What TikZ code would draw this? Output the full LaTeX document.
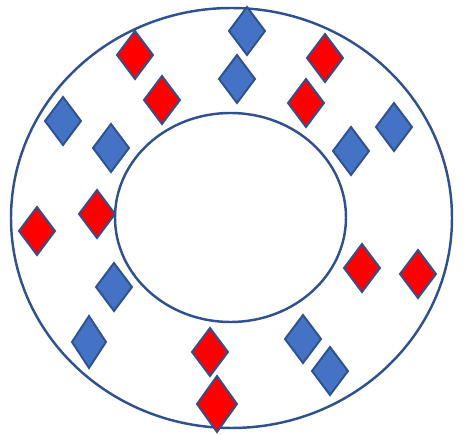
\documentclass[tikz,border=0pt]{standalone}
\usepackage{tikz}
\usetikzlibrary{shapes.geometric}
\definecolor{ringblue}{HTML}{2F528F}
\definecolor{gemblue}{HTML}{4472C4}
\tikzset{
    ring/.style={draw=ringblue, line width=1.4pt},
    gem/.style={diamond, draw=ringblue, line width=1.1pt, minimum width=0.72cm, minimum height=0.96cm, inner sep=0pt, outer sep=0pt},
    bluegem/.style={gem, fill=gemblue},
    redgem/.style={gem, fill=red}
}

\begin{document}
\begin{tikzpicture}[x=0.02cm, y=-0.02cm]
    \useasboundingbox (0,0) rectangle (464,435);
    % two rings
    \draw [ring] (231.5,218) ellipse [x radius=220.5, y radius=210];
    \draw [ring] (230.5,217.5) ellipse [x radius=115.5, y radius=104.5];

    % blue diamonds
    \node (b1) [bluegem] at (247,31) {};
    \node (b2) [bluegem] at (237,79) {};
    \node (b3) [bluegem] at (63,121) {};
    \node (b4) [bluegem] at (111,148) {};
    \node (b5) [bluegem] at (394,127) {};
    \node (b6) [bluegem] at (351,151) {};
    \node (b7) [bluegem] at (114,287) {};
    \node (b8) [bluegem, minimum width=0.68cm, minimum height=1.04cm] at (89,342) {};
    \node (b9) [bluegem] at (303,339) {};
    \node (b10) [bluegem] at (330,371) {};

    % red diamonds
    \node (r1) [redgem] at (135,55) {};
    \node (r2) [redgem] at (162,100) {};
    \node (r3) [redgem] at (325,58) {};
    \node (r4) [redgem] at (306,103) {};
    \node (r5) [redgem] at (37,231) {};
    \node (r6) [redgem] at (97,214) {};
    \node (r7) [redgem] at (362,268) {};
    \node (r8) [redgem] at (418,274) {};
    \node (r9) [redgem] at (210,352) {};
    \node (r10) [redgem, minimum width=0.8cm, minimum height=1.12cm] at (217,404) {};
\end{tikzpicture}
\end{document}
